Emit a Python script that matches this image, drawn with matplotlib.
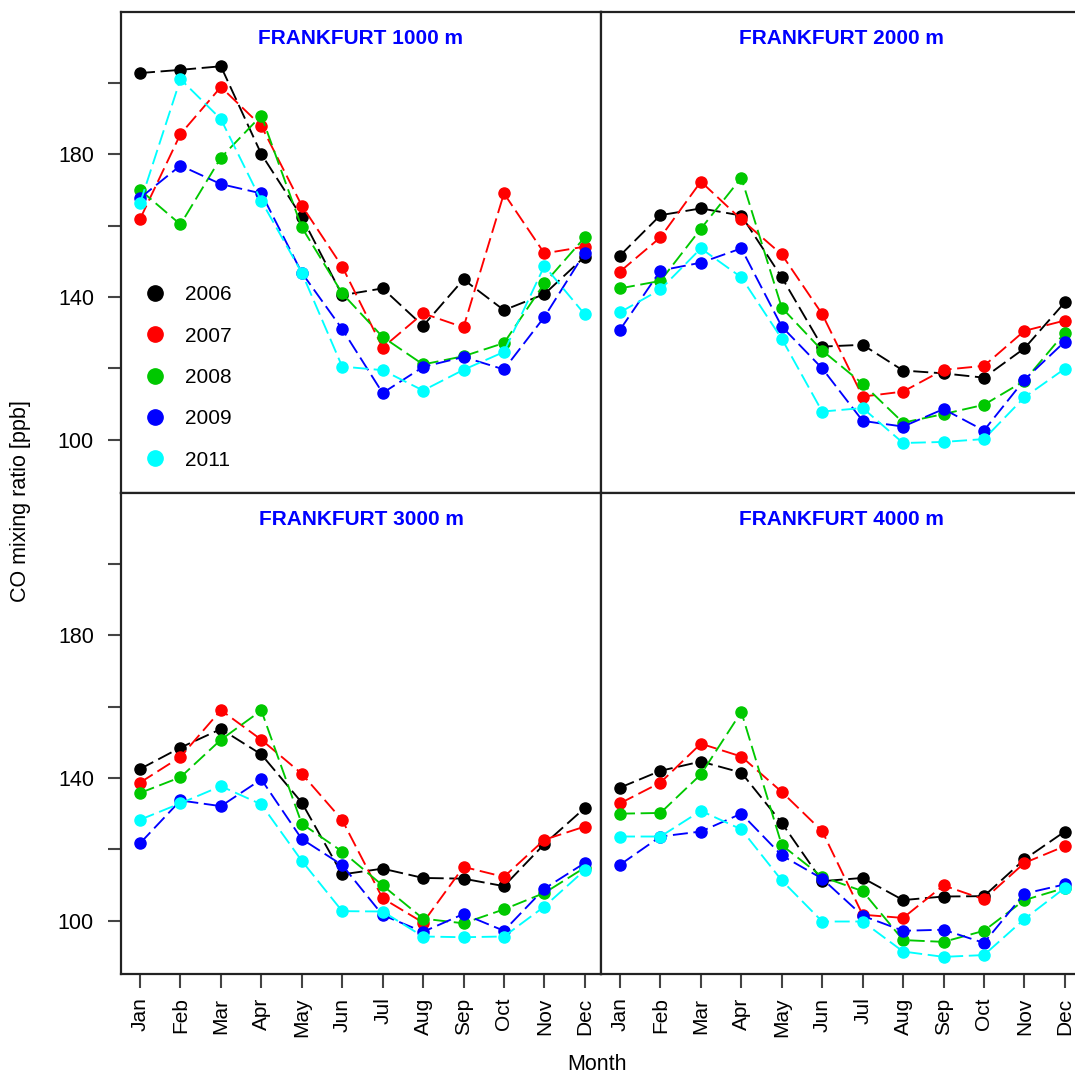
import numpy as np
import matplotlib
matplotlib.use("Agg")
import matplotlib.pyplot as plt
from matplotlib.lines import Line2D

plt.rcParams['font.family'] = ['Liberation Sans', 'DejaVu Sans']

months = ["Jan", "Feb", "Mar", "Apr", "May", "Jun",
          "Jul", "Aug", "Sep", "Oct", "Nov", "Dec"]
years = ["2006", "2007", "2008", "2009", "2011"]
colors = ["#000000", "#ff0000", "#00c800", "#0000ff", "#00ffff"]
titles = ["FRANKFURT 1000 m", "FRANKFURT 2000 m", "FRANKFURT 3000 m", "FRANKFURT 4000 m"]

# CO [ppb], по годам 2006, 2007, 2008, 2009, 2011
co_1000 = [
    [202.7, 203.6, 204.6, 180.0, 162.4, 140.5, 142.4, 131.9, 144.9, 136.3, 140.8, 151.3],
    [161.8, 185.6, 198.8, 187.9, 165.6, 148.5, 125.8, 135.4, 131.5, 169.0, 152.2, 154.1],
    [170.0, 160.3, 179.0, 190.8, 159.5, 141.0, 128.8, 121.1, 123.4, 127.1, 143.8, 156.7],
    [167.7, 176.8, 171.6, 169.0, 146.8, 131.0, 113.1, 120.4, 123.2, 119.7, 134.4, 152.4],
    [166.2, 201.0, 189.8, 166.9, 146.8, 120.5, 119.5, 113.8, 119.6, 124.6, 148.7, 135.1],
]
co_2000 = [
    [151.6, 162.9, 164.8, 162.8, 145.5, 126.1, 126.6, 119.4, 118.6, 117.4, 125.6, 138.5],
    [147.1, 156.7, 172.3, 161.7, 151.9, 135.2, 112.1, 113.5, 119.6, 120.7, 130.5, 133.4],
    [142.4, 144.5, 159.1, 173.4, 137.0, 125.0, 115.7, 104.8, 107.2, 109.8, 116.5, 130.0],
    [130.8, 147.4, 149.6, 153.6, 131.7, 120.0, 105.3, 103.7, 108.6, 102.6, 116.8, 127.5],
    [135.7, 142.1, 153.6, 145.5, 128.3, 107.9, 108.9, 99.1, 99.4, 100.2, 111.9, 119.9],
]
co_3000 = [
    [142.5, 148.5, 153.7, 146.6, 133.1, 113.0, 114.6, 112.0, 111.8, 109.7, 121.5, 131.6],
    [138.7, 145.9, 159.0, 150.7, 141.2, 128.2, 106.3, 99.5, 115.1, 112.3, 122.7, 126.4],
    [135.8, 140.2, 150.7, 158.9, 127.2, 119.4, 109.9, 100.6, 99.3, 103.2, 107.8, 114.9],
    [121.7, 133.7, 132.1, 139.6, 122.9, 115.6, 101.6, 96.9, 101.9, 97.2, 109.0, 116.2],
    [128.3, 132.9, 137.7, 132.6, 116.8, 102.7, 102.6, 95.6, 95.4, 95.6, 104.0, 114.2],
]
co_4000 = [
    [137.3, 142.0, 144.6, 141.5, 127.4, 111.1, 112.0, 105.8, 106.8, 106.9, 117.2, 125.0],
    [132.9, 138.7, 149.6, 146.0, 136.1, 125.1, 101.7, 100.8, 109.9, 106.0, 116.2, 120.9],
    [130.0, 130.2, 141.0, 158.5, 121.2, 112.3, 108.3, 94.6, 94.1, 97.2, 105.8, 109.2],
    [115.7, 123.6, 125.0, 130.0, 118.3, 111.8, 101.4, 97.2, 97.5, 93.8, 107.6, 110.2],
    [123.6, 123.6, 130.8, 125.6, 111.3, 99.8, 99.8, 91.4, 89.9, 90.4, 100.5, 109.2],
]
panels = [co_1000, co_2000, co_3000, co_4000]

W, H = 1075, 1074
fig = plt.figure(figsize=(W / 100, H / 100), dpi=100)

# положения панелей в пикселях: (лево, верх)
boxes = [(121, 12), (601, 12), (121, 493), (601, 493)]
pw, ph = 480, 481

x = np.arange(1, 13)
axes = []
for i, (bx, by) in enumerate(boxes):
    ax = fig.add_axes([bx / W, 1 - (by + ph) / H, pw / W, ph / H])
    axes.append(ax)
    for data, c in zip(panels[i], colors):
        ax.plot(x, data, color=c, linewidth=1.35, linestyle=(0, (8, 3)),
                marker="o", ms=8, mec=c, mfc=c)
    ax.set_xlim(0.53, 12.4)
    ax.set_ylim(85.1, 219.8)
    for s in ax.spines.values():
        s.set_linewidth(1.6)
        s.set_color("#222222")
    ax.text(0.5, 0.944, titles[i], transform=ax.transAxes, ha="center", va="center",
            fontsize=15, fontweight="bold", color="#0000ff")

    ax.set_yticks([100, 120, 140, 160, 180, 200])
    if i in (0, 2):
        ax.set_yticklabels(["100", "", "140", "", "180", ""])
        ax.tick_params(axis="y", direction="out", length=9.5, width=1.5, pad=10,
                       labelsize=15.5, color="#444444")
    else:
        ax.tick_params(axis="y", left=False, labelleft=False)

    ax.set_xticks(x)
    if i in (2, 3):
        ax.set_xticklabels(months, rotation=90)
        ax.tick_params(axis="x", direction="out", length=10, width=1.5, pad=7,
                       labelsize=15, color="#444444")
    else:
        ax.tick_params(axis="x", bottom=False, labelbottom=False)

# легенда
handles = [Line2D([], [], linestyle="none", marker="o", ms=11, color=c) for c in colors]
axes[0].legend(handles, years, loc="upper left", bbox_to_anchor=(0.006, 0.475),
               frameon=False, fontsize=15, labelspacing=1.07, handlelength=1.0,
               handletextpad=0.95, borderaxespad=0.6)

fig.text(21 / W, 1 - 501 / H, "CO mixing ratio [ppb]", rotation=90,
         ha="center", va="center", fontsize=15.5)
fig.text(597 / W, 1 - 1065 / H, "Month", ha="center", va="center", fontsize=15.5)

plt.savefig("out.png", dpi=100)
